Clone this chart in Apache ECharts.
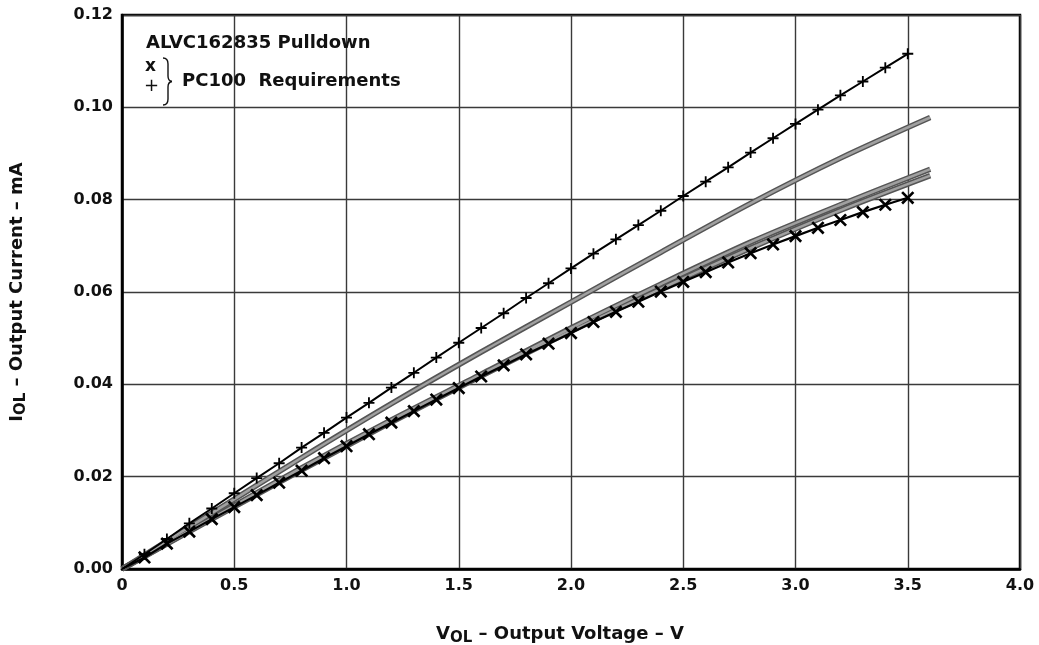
<!DOCTYPE html>
<html>
<head>
<meta charset="utf-8">
<script src="https://cdn.jsdelivr.net/npm/echarts@6/dist/echarts.min.js"></script>
<style>
  html, body { margin: 0; padding: 0; background: #fff; }
  #chart { width: 1039px; height: 645px; }
</style>
</head>
<body>
<div id="chart"></div>
<script>
// ---- Data ----
const markedVolts = [0, 0.1, 0.2, 0.3, 0.4, 0.5, 0.6, 0.7, 0.8, 0.9, 1.0, 1.1, 1.2, 1.3, 1.4, 1.5, 1.6, 1.7, 1.8, 1.9,
  2.0, 2.1, 2.2, 2.3, 2.4, 2.5, 2.6, 2.7, 2.8, 2.9, 3.0, 3.1, 3.2, 3.3, 3.4, 3.5];
// PC100 requirement (+ markers)
const pc100Plus = [0, 0.0032, 0.0065, 0.0099, 0.0131, 0.0164, 0.0197, 0.0229, 0.0263, 0.0295, 0.0328,
  0.0360, 0.0393, 0.0425, 0.0458, 0.0490, 0.0522, 0.0554, 0.0587, 0.0619, 0.0651,
  0.0683, 0.0714, 0.0745, 0.0776, 0.0808, 0.0839, 0.0870, 0.0902, 0.0933, 0.0964,
  0.0995, 0.1026, 0.1056, 0.1086, 0.1116];
// PC100 requirement (x markers)
const pc100X = [0, 0.0025, 0.0055, 0.0081, 0.0108, 0.0134, 0.0160, 0.0187, 0.0213, 0.0240, 0.0266,
  0.0292, 0.0317, 0.0342, 0.0367, 0.0392, 0.0417, 0.0441, 0.0465, 0.0488, 0.0511,
  0.0535, 0.0557, 0.0579, 0.0601, 0.0622, 0.0643, 0.0664, 0.0684, 0.0703, 0.0721,
  0.0739, 0.0756, 0.0773, 0.0789, 0.0804];
// ALVC162835 pulldown (shaded bands)
const bandVolts = [0, 0.4, 0.8, 1.2, 1.6, 2.0, 2.4, 2.8, 3.2, 3.6];
const alvcHigh = [0, 0.0121, 0.0241, 0.0358, 0.0470, 0.0578, 0.0686, 0.0792, 0.0890, 0.0978];
const alvcMid  = [0, 0.0110, 0.0219, 0.0323, 0.0422, 0.0522, 0.0617, 0.0708, 0.0789, 0.0866];
const alvcLow  = [0, 0.0108, 0.0214, 0.0318, 0.0418, 0.0515, 0.0607, 0.0695, 0.0777, 0.0852];

const xTicks = [0, 0.5, 1.0, 1.5, 2.0, 2.5, 3.0, 3.5, 4.0];
const yTicks = [0, 0.02, 0.04, 0.06, 0.08, 0.10, 0.12];

// ---- Helpers ----
function pairs(xs, ys, firstNoSymbol) {
  return xs.map((x, i) => (firstNoSymbol && i === 0) ? { value: [x, ys[i]], symbol: 'none' } : [x, ys[i]]);
}
const plusPath = 'path://M-1,-6h2v12h-2z M-6,-1h12v2h-12z';
const FONT = '"DejaVu Sans", "Liberation Sans", Arial, sans-serif';

function bandSeries(name, ys) {
  return [
    { name: name, type: 'line', data: pairs(bandVolts, ys), smooth: 0.3, symbol: 'none',
      lineStyle: { color: '#555', width: 5.5, cap: 'butt' }, z: 2, silent: true },
    { name: name + '_inner', type: 'line', data: pairs(bandVolts, ys), smooth: 0.3, symbol: 'none',
      lineStyle: { color: '#a0a0a0', width: 2.5, cap: 'butt' }, z: 3, silent: true }
  ];
}

const chart = echarts.init(document.getElementById('chart'), null, { renderer: 'canvas' });
const axisNameRich = {
  main: { fontFamily: FONT, fontWeight: 'bold', fontSize: 18, color: '#111' },
  sub: { fontFamily: FONT, fontWeight: 'bold', fontSize: 15, color: '#111', padding: [9, 0, 0, 0] }
};
const braceStyle = { stroke: '#111', lineWidth: 1.4, fill: null };

chart.setOption({
  animation: false,
  grid: { left: 122, right: 19, top: 15, bottom: 76, outerBoundsMode: 'none', containLabel: false,
    show: true, borderColor: '#000', borderWidth: 2.5, backgroundColor: 'transparent' },
  xAxis: {
    type: 'value', min: xTicks[0], max: xTicks[xTicks.length - 1], interval: 0.5,
    axisLine: { show: true, lineStyle: { color: '#000', width: 2.5 } },
    axisTick: { show: false },
    splitLine: { show: true, lineStyle: { color: '#3a3a3a', width: 1.4 } },
    axisLabel: { margin: 9, fontFamily: FONT, fontWeight: 'bold', fontSize: 16, color: '#111',
      formatter: v => (v === 0 ? '0' : v.toFixed(1)) },
    name: '{main|V}{sub|OL}{main| – Output Voltage – V}',
    nameLocation: 'middle', nameGap: 53,
    nameTextStyle: { rich: axisNameRich, padding: [0, 22, 0, 0] }
  },
  yAxis: {
    type: 'value', min: yTicks[0], max: yTicks[yTicks.length - 1], interval: 0.02,
    axisLine: { show: true, lineStyle: { color: '#000', width: 2.5 } },
    axisTick: { show: false },
    splitLine: { show: true, lineStyle: { color: '#3a3a3a', width: 1.4 } },
    axisLabel: { margin: 9, fontFamily: FONT, fontWeight: 'bold', fontSize: 16, color: '#111',
      formatter: v => v.toFixed(2) },
    name: '{main|I}{sub|OL}{main| – Output Current – mA}',
    nameLocation: 'middle', nameGap: 93,
    nameTextStyle: { rich: axisNameRich }
  },
  series: [
    ...bandSeries('ALVC high', alvcHigh),
    ...bandSeries('ALVC mid', alvcMid),
    ...bandSeries('ALVC low', alvcLow),
    { name: 'PC100 +', type: 'line', data: pairs(markedVolts, pc100Plus, true),
      symbol: plusPath, symbolSize: 11, showAllSymbol: true,
      lineStyle: { color: '#000', width: 2 }, itemStyle: { color: '#000' }, z: 5 },
    { name: 'PC100 x', type: 'line', data: pairs(markedVolts, pc100X, true),
      symbol: plusPath, symbolSize: 16, symbolRotate: 45, showAllSymbol: true,
      lineStyle: { color: '#000', width: 2.2 }, itemStyle: { color: '#000' }, z: 5 }
  ],
  graphic: [
    { type: 'text', left: 146, top: 34, z: 20,
      style: { text: 'ALVC162835 Pulldown', font: 'bold 18px ' + FONT, fill: '#111' } },
    { type: 'text', left: 145, top: 58, z: 20,
      style: { text: 'x', font: 'bold 17px ' + FONT, fill: '#111' } },
    { type: 'text', left: 144, top: 77, z: 20,
      style: { text: '+', font: '18px ' + FONT, fill: '#111' } },
    { type: 'bezierCurve', z: 20, shape: { x1: 163, y1: 58, x2: 168, y2: 64, cpx1: 168, cpy1: 58 }, style: braceStyle },
    { type: 'line', z: 20, shape: { x1: 168, y1: 64, x2: 168, y2: 76 }, style: braceStyle },
    { type: 'bezierCurve', z: 20, shape: { x1: 168, y1: 76, x2: 172, y2: 81.5, cpx1: 168, cpy1: 81 }, style: braceStyle },
    { type: 'bezierCurve', z: 20, shape: { x1: 172, y1: 81.5, x2: 168, y2: 87, cpx1: 168, cpy1: 82 }, style: braceStyle },
    { type: 'line', z: 20, shape: { x1: 168, y1: 87, x2: 168, y2: 99 }, style: braceStyle },
    { type: 'bezierCurve', z: 20, shape: { x1: 168, y1: 99, x2: 163, y2: 105, cpx1: 168, cpy1: 105 }, style: braceStyle },
    { type: 'text', left: 182, top: 72, z: 20,
      style: { text: 'PC100  Requirements', font: 'bold 18px ' + FONT, fill: '#111' } }
  ]
});
</script>
</body>
</html>
